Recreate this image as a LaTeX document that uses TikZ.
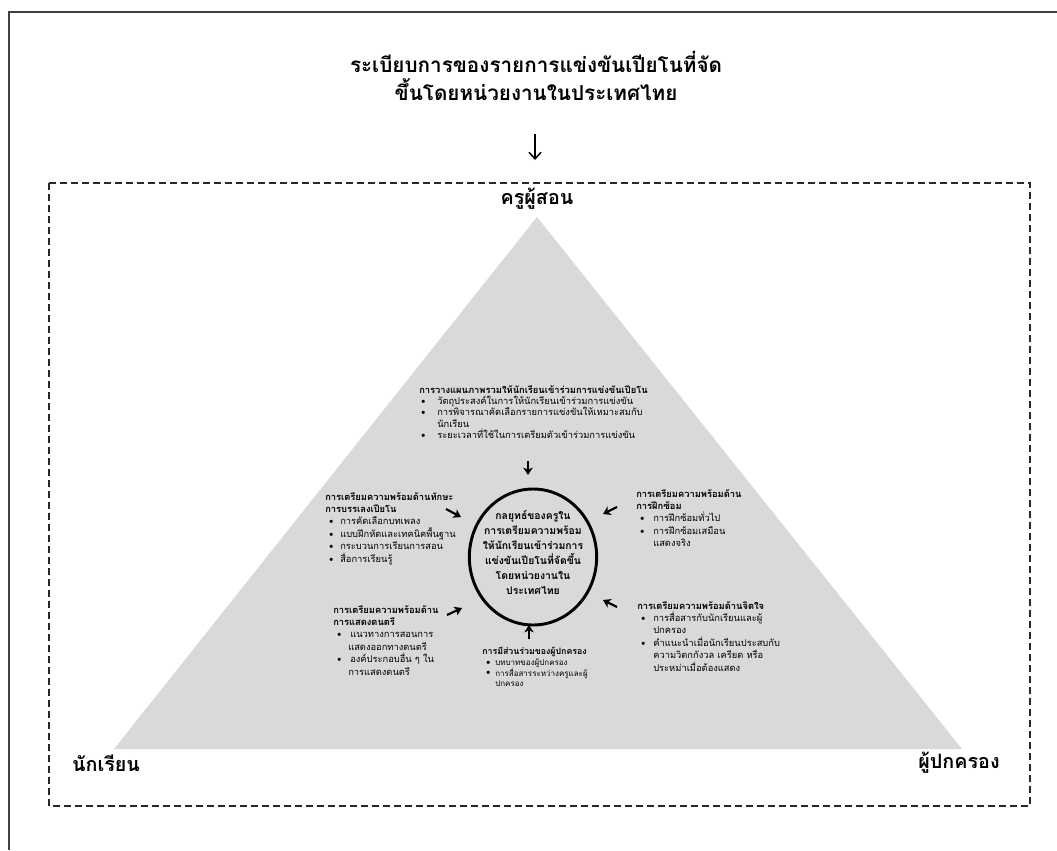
\documentclass[tikz,border=0pt]{standalone}
\usepackage{fontspec}
\setmainfont{Loma}[Script=Thai]
\usetikzlibrary{arrows.meta,shapes.geometric}
\definecolor{tri}{RGB}{217,217,217}
\definecolor{framec}{RGB}{64,64,64}
\definecolor{dashc}{RGB}{40,40,40}
\newcommand{\itm}[3]{\hspace*{#1}\makebox[0pt]{\raisebox{0.8pt}{$\scriptstyle\bullet$}}\hspace*{\dimexpr#2-#1\relax}#3}
\newcommand{\cnt}[2]{\hspace*{#1}#2}
\tikzset{
  blk/.style={anchor=north west, inner sep=0pt, align=left, font=\fontsize{7}{9.3}\selectfont},
  bigarrow/.style={line width=1.6pt, -{Stealth[length=5.5pt,width=7pt,inset=1.5pt]}},
  lbl/.style={inner sep=0pt, font=\fontsize{14.8}{17}\selectfont\bfseries},
}
\begin{document}
\begin{tikzpicture}[x=0.75pt,y=-0.75pt]
\useasboundingbox (0,0) rectangle (1057,850);
\draw[framec, line width=2pt] (9,850) -- (9,12) -- (1057,12);
\node[inner sep=0pt, align=center, font=\fontsize{15.5}{21}\selectfont\bfseries] (title) at (536,76)
  {ระเบียบการของรายการแข่งขันเปียโนที่จัด\\ขึ้นโดยหน่วยงานในประเทศไทย};
\coordinate (a0) at (535,134);
\coordinate (a1) at (535,160);
\draw[line width=1.1pt, -{Straight Barb[length=5pt,width=9pt]}] (a0) -- (a1);
\draw[dashc, line width=1.5pt, dash pattern=on 5.25pt off 3pt] (49,183) rectangle (1030,806);
\fill[tri] (537,217) -- (114,749) -- (962,749) -- cycle;
\node[lbl] (teacher) at (537,199) {ครูผู้สอน};
\node[lbl] (student) at (106,763) {นักเรียน};
\node[lbl] (parent) at (959,763) {ผู้ปกครอง};
\node[draw, ellipse, line width=2.2pt, minimum width=95.5pt, minimum height=102pt, inner sep=0pt] (core) at (533,557) {};
\node[inner sep=0pt, align=center, font=\fontsize{7.8}{11.25}\selectfont\bfseries] (coretext) at (533,552)
  {กลยุทธ์ของครูใน\\การเตรียมความพร้อม\\ให้นักเรียนเข้าร่วมการ\\แข่งขันเปียโนที่จัดขึ้น\\โดยหน่วยงานใน\\ประเทศไทย};
% top block
\node[blk, font=\fontsize{7}{8.5}\selectfont] (ttop) at (419,385)
  {\textbf{การวางแผนภาพรวมให้นักเรียนเข้าร่วมการแข่งขันเปียโน}\\
   \itm{3pt}{13.5pt}{วัตถุประสงค์ในการให้นักเรียนเข้าร่วมการแข่งขัน}\\
   \itm{3pt}{13.5pt}{การพิจารณาคัดเลือกรายการแข่งขันให้เหมาะสมกับ}\\
   \cnt{13.5pt}{นักเรียน}\\
   \itm{3pt}{13.5pt}{ระยะเวลาที่ใช้ในการเตรียมตัวเข้าร่วมการแข่งขัน}};
% left upper
\node[blk] (tlu) at (325,492)
  {\textbf{การเตรียมความพร้อมด้านทักษะ}\\
   \textbf{การบรรเลงเปียโน}\\
   \itm{4.5pt}{11.25pt}{การคัดเลือกบทเพลง}\\
   \itm{4.5pt}{11.25pt}{แบบฝึกหัดและเทคนิคพื้นฐาน}\\
   \itm{4.5pt}{11.25pt}{กระบวนการเรียนการสอน}\\
   \itm{4.5pt}{11.25pt}{สื่อการเรียนรู้}};
% right upper
\node[blk] (tru) at (636,489)
  {\textbf{การเตรียมความพร้อมด้าน}\\
   \textbf{การฝึกซ้อม}\\
   \itm{4.5pt}{12.75pt}{การฝึกซ้อมทั่วไป}\\
   \itm{4.5pt}{12.75pt}{การฝึกซ้อมเสมือน}\\
   \cnt{12.75pt}{แสดงจริง}};
% left lower
\node[blk] (tll) at (333,605)
  {\textbf{การเตรียมความพร้อมด้าน}\\
   \textbf{การแสดงดนตรี}\\
   \itm{4.5pt}{12.75pt}{แนวทางการสอนการ}\\
   \cnt{11.25pt}{แสดงออกทางดนตรี}\\
   \itm{4.5pt}{12.75pt}{องค์ประกอบอื่น ๆ ใน}\\
   \cnt{11.25pt}{การแสดงดนตรี}};
% right lower
\node[blk] (trl) at (637,601)
  {\textbf{การเตรียมความพร้อมด้านจิตใจ}\\
   \itm{4.5pt}{12pt}{การสื่อสารกับนักเรียนและผู้}\\
   \cnt{12pt}{ปกครอง}\\
   \itm{4.5pt}{12pt}{คำแนะนำเมื่อนักเรียนประสบกับ}\\
   \cnt{12pt}{ความวิตกกังวล เครียด หรือ}\\
   \cnt{12pt}{ประหม่าเมื่อต้องแสดง}};
% bottom
\node[blk, font=\fontsize{6.6}{8}\selectfont] (tb) at (482,647)
  {\textbf{การมีส่วนร่วมของผู้ปกครอง}\\
   {\fontsize{6}{8}\selectfont\itm{4.5pt}{9.75pt}{บทบาทของผู้ปกครอง}}\\
   {\fontsize{6}{8}\selectfont\itm{4.5pt}{9.75pt}{การสื่อสารระหว่างครูและผู้}}\\
   {\fontsize{6}{8}\selectfont\cnt{9.75pt}{ปกครอง}}};
% arrows to the core
\coordinate (p1) at (528,461); \coordinate (q1) at (528,475);
\coordinate (p2) at (446,509); \coordinate (q2) at (461,517);
\coordinate (p3) at (617,507); \coordinate (q3) at (603,514);
\coordinate (p4) at (447,615); \coordinate (q4) at (462,608);
\coordinate (p5) at (617,607); \coordinate (q5) at (603,600);
\coordinate (p6) at (529,639); \coordinate (q6) at (529,625);
\foreach \i in {1,...,6} {\draw[bigarrow] (p\i) -- (q\i);}
\end{tikzpicture}
\end{document}
